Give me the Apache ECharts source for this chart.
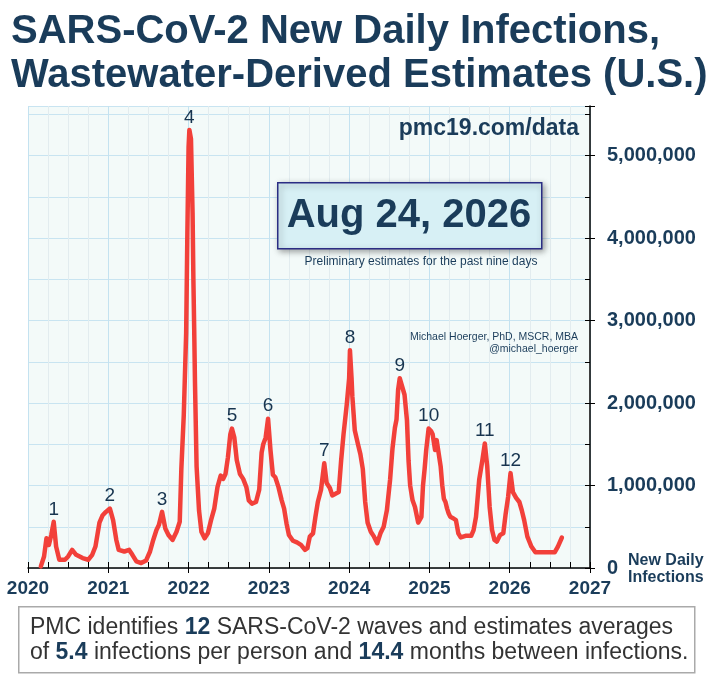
<!DOCTYPE html>
<html>
<head>
<meta charset="utf-8">
<script src="https://cdn.jsdelivr.net/npm/echarts@6/dist/echarts.min.js"></script>
<style>
  html, body { margin: 0; padding: 0; background: #fff; }
  #chart { width: 709px; height: 678px; }
</style>
</head>
<body>
<div id="chart"></div>
<script>
// decimal year of each reading, and estimated new daily infections (millions)
const years = [
  2020.16, 2020.20, 2020.23, 2020.26, 2020.29, 2020.32, 2020.35, 2020.39, 2020.46, 2020.50,
  2020.55, 2020.60, 2020.68, 2020.75, 2020.80, 2020.84, 2020.89, 2020.93, 2020.97, 2021.02,
  2021.06, 2021.10, 2021.13, 2021.20, 2021.26, 2021.30, 2021.35, 2021.41, 2021.47, 2021.52,
  2021.56, 2021.60, 2021.63, 2021.67, 2021.71, 2021.75, 2021.80, 2021.85, 2021.89, 2021.91,
  2021.94, 2021.97, 2021.985, 2022.00, 2022.01, 2022.03, 2022.05, 2022.06, 2022.07, 2022.08,
  2022.10, 2022.13, 2022.16, 2022.20, 2022.24, 2022.28, 2022.32, 2022.36, 2022.40, 2022.43,
  2022.46, 2022.49, 2022.52, 2022.54, 2022.57, 2022.60, 2022.64, 2022.68, 2022.72, 2022.75,
  2022.79, 2022.84, 2022.88, 2022.91, 2022.93, 2022.96, 2022.99, 2023.02, 2023.05, 2023.08,
  2023.12, 2023.16, 2023.19, 2023.22, 2023.25, 2023.30, 2023.35, 2023.40, 2023.45, 2023.48,
  2023.51, 2023.55, 2023.58, 2023.61, 2023.65, 2023.69, 2023.72, 2023.76, 2023.79, 2023.83,
  2023.87, 2023.90, 2023.93, 2023.97, 2024.00, 2024.01, 2024.03, 2024.04, 2024.07, 2024.11,
  2024.14, 2024.17, 2024.20, 2024.23, 2024.27, 2024.31, 2024.35, 2024.39, 2024.43, 2024.47,
  2024.51, 2024.54, 2024.57, 2024.59, 2024.61, 2024.63, 2024.66, 2024.69, 2024.72, 2024.74,
  2024.76, 2024.79, 2024.82, 2024.86, 2024.90, 2024.92, 2024.94, 2024.96, 2024.99, 2025.02,
  2025.04, 2025.07, 2025.09, 2025.11, 2025.14, 2025.16, 2025.18, 2025.20, 2025.22, 2025.24,
  2025.26, 2025.30, 2025.33, 2025.36, 2025.39, 2025.41, 2025.45, 2025.52, 2025.55, 2025.58,
  2025.62, 2025.66, 2025.69, 2025.72, 2025.75, 2025.78, 2025.81, 2025.84, 2025.88, 2025.92,
  2025.95, 2025.98, 2026.01, 2026.04, 2026.08, 2026.12, 2026.15, 2026.18, 2026.22, 2026.27,
  2026.32, 2026.40, 2026.48, 2026.56, 2026.60, 2026.65
];
const infectionsM = [
  0.02, 0.14, 0.36, 0.28, 0.40, 0.56, 0.26, 0.10, 0.10, 0.14,
  0.22, 0.16, 0.12, 0.10, 0.16, 0.26, 0.55, 0.64, 0.68, 0.72,
  0.58, 0.34, 0.22, 0.20, 0.22, 0.16, 0.08, 0.06, 0.09, 0.20,
  0.34, 0.46, 0.52, 0.68, 0.48, 0.40, 0.34, 0.44, 0.56, 1.20,
  1.85, 2.85, 4.06, 5.10, 5.31, 5.20, 4.30, 3.50, 2.90, 2.24,
  1.23, 0.70, 0.44, 0.36, 0.42, 0.58, 0.72, 0.98, 1.12, 1.08,
  1.14, 1.34, 1.62, 1.69, 1.58, 1.31, 1.14, 1.08, 0.98, 0.82,
  0.78, 0.80, 0.95, 1.40, 1.50, 1.58, 1.81, 1.43, 1.13, 1.10,
  0.98, 0.82, 0.72, 0.54, 0.40, 0.33, 0.31, 0.28, 0.22, 0.24,
  0.38, 0.42, 0.62, 0.80, 0.95, 1.27, 1.03, 0.97, 0.88, 0.90,
  0.92, 1.30, 1.62, 1.98, 2.30, 2.64, 2.30, 2.08, 1.67, 1.50,
  1.38, 1.20, 0.80, 0.55, 0.44, 0.38, 0.30, 0.42, 0.50, 0.70,
  1.07, 1.45, 1.70, 1.80, 2.16, 2.30, 2.20, 2.10, 1.79, 1.30,
  1.00, 0.82, 0.74, 0.55, 0.62, 1.00, 1.20, 1.43, 1.69, 1.66,
  1.62, 1.43, 1.55, 1.53, 1.23, 1.00, 0.84, 0.80, 0.72, 0.66,
  0.62, 0.60, 0.58, 0.42, 0.37, 0.35, 0.39, 0.39, 0.46, 0.62,
  1.07, 1.31, 1.51, 1.23, 0.74, 0.46, 0.34, 0.32, 0.40, 0.42,
  0.66, 0.86, 1.15, 0.92, 0.85, 0.80, 0.70, 0.58, 0.38, 0.26,
  0.19, 0.19, 0.19, 0.19, 0.26, 0.37
];
// wave numbers and the reading where each peaks
const waveLabels = ['1', '2', '3', '4', '5', '6', '7', '8', '9', '10', '11', '12'];
const wavePeakYears = [2020.32, 2021.02, 2021.67, 2022.01, 2022.54, 2022.99, 2023.69, 2024.01, 2024.63, 2024.99, 2025.69, 2026.01];
const yearTicks = [2020, 2021, 2022, 2023, 2024, 2025, 2026, 2027];

const navy = '#1a3c5a';
const font = 'Arial, "Liberation Sans", sans-serif';

const lineData = years.map((y, i) => [y, infectionsM[i]]);
const waveData = wavePeakYears.map((y, i) => ({
  value: [y, infectionsM[years.indexOf(y)]],
  label: { formatter: waveLabels[i] }
}));

const chart = echarts.init(document.getElementById('chart'));
chart.setOption({
  animation: false,
  title: {
    text: 'SARS-CoV-2 New Daily Infections,\nWastewater-Derived Estimates (U.S.)',
    left: 6, top: 5,
    textStyle: { fontFamily: font, fontSize: 40, fontWeight: 'bold', color: navy, lineHeight: 44 }
  },
  grid: {
    left: 28, right: 119, top: 106, bottom: 110,
    show: true, backgroundColor: '#f3faf9', borderWidth: 0
  },
  xAxis: [
    {
      type: 'value', min: 2020, max: 2027, interval: 0.25,
      axisLine: { lineStyle: { color: '#000', width: 1.5 } },
      axisTick: { inside: true, length: 6, lineStyle: { color: '#000' } },
      axisLabel: { show: false },
      splitLine: { lineStyle: { color: '#e2ecef', width: 1 } }
    },
    {
      type: 'value', position: 'bottom', min: 2020, max: 2027, interval: 1,
      axisLine: { show: false },
      axisTick: { length: 5, lineStyle: { color: '#000' } },
      axisLabel: {
        margin: 11, fontFamily: font, fontSize: 19, fontWeight: 'bold', color: navy,
        formatter: v => yearTicks.includes(Math.round(v)) ? String(Math.round(v)) : ''
      },
      splitLine: { lineStyle: { color: '#c4e2f0', width: 1 } }
    }
  ],
  yAxis: [
    {
      type: 'value', position: 'right', min: 0, max: 5.6, interval: 0.5,
      axisLine: { show: true, lineStyle: { color: '#000', width: 1.5 } },
      axisTick: { inside: true, length: 5, lineStyle: { color: '#000' } },
      axisLabel: { show: false },
      splitLine: { lineStyle: { color: '#c8e4f1', width: 1 } }
    },
    {
      type: 'value', position: 'right', min: 0, max: 5.6, interval: 1,
      axisLine: { show: false },
      axisTick: { length: 5, lineStyle: { color: '#000' } },
      splitLine: { show: false },
      axisLabel: {
        margin: 17, fontFamily: font, fontSize: 20, fontWeight: 'bold', color: navy,
        formatter: v => Math.abs(v - Math.round(v)) < 1e-6 ? (Math.round(v) * 1000000).toLocaleString('en-US') : ''
      }
    }
  ],
  series: [
    {
      type: 'line', data: lineData, xAxisIndex: 0, yAxisIndex: 0,
      showSymbol: false, symbol: 'none', smooth: false,
      lineStyle: { color: '#f2403a', width: 4.5, cap: 'round', join: 'round' },
      z: 3
    },
    {
      type: 'scatter', data: waveData, xAxisIndex: 0, yAxisIndex: 0,
      symbolSize: 0,
      itemStyle: { opacity: 1 },
      label: {
        show: true, position: 'top', distance: 3, opacity: 1,
        fontFamily: font, fontSize: 19, color: '#17344f'
      },
      z: 4
    }
  ],
  graphic: [
    {
      type: 'text', right: 130, top: 117, z: 10,
      style: { text: 'pmc19.com/data', font: 'bold 23px ' + font, fill: navy }
    },
    {
      type: 'rect', left: 277, top: 182, z: 10,
      shape: { width: 264, height: 66 },
      style: {
        fill: '#d7f0f5', stroke: '#2b2d84', lineWidth: 1.5,
        shadowBlur: 6, shadowColor: 'rgba(0,0,0,0.35)', shadowOffsetX: 2, shadowOffsetY: 2
      }
    },
    {
      type: 'text', x: 409, y: 216, z: 11,
      style: { text: 'Aug 24, 2026', font: 'bold 40px ' + font, fill: navy, align: 'center', verticalAlign: 'middle' }
    },
    {
      type: 'text', x: 421, y: 262, z: 10,
      style: { text: 'Preliminary estimates for the past nine days', font: '12px ' + font, fill: navy, align: 'center', verticalAlign: 'middle' }
    },
    {
      type: 'text', x: 578, y: 337, z: 10,
      style: { text: 'Michael Hoerger, PhD, MSCR, MBA', font: '10.5px ' + font, fill: navy, align: 'right', verticalAlign: 'middle' }
    },
    {
      type: 'text', x: 578, y: 349, z: 10,
      style: { text: '@michael_hoerger', font: '10.5px ' + font, fill: navy, align: 'right', verticalAlign: 'middle' }
    },
    {
      type: 'text', x: 628, y: 552, z: 10,
      style: { text: 'New Daily\nInfections', font: 'bold 16px ' + font, fill: navy, lineHeight: 17 }
    },
    {
      type: 'rect', left: 18, top: 606, z: 10,
      shape: { width: 676, height: 66 },
      style: { fill: '#fff', stroke: '#aaaaaa', lineWidth: 1.5 }
    },
    {
      type: 'text', x: 30, y: 640, z: 11,
      style: {
        text: 'PMC identifies {b|12} SARS-CoV-2 waves and estimates averages\nof {b|5.4} infections per person and {b|14.4} months between infections.',
        font: '23px ' + font, fill: '#333333', lineHeight: 25, verticalAlign: 'middle',
        rich: { b: { fontFamily: font, fontSize: 23, fontWeight: 'bold', fill: navy, lineHeight: 25 } }
      }
    }
  ]
});
</script>
</body>
</html>
